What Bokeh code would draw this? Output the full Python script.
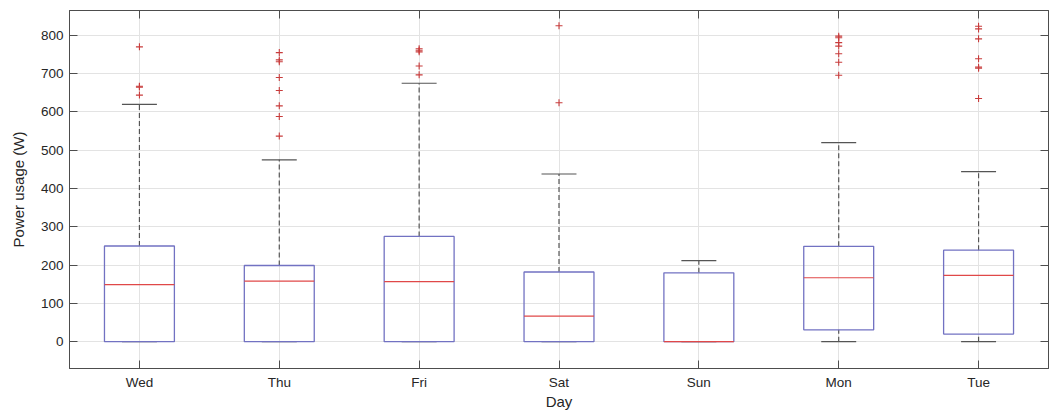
from bokeh.plotting import figure
from bokeh.models import FactorRange, Range1d, LinearAxis, CategoricalAxis, FixedTicker, ColumnDataSource
from bokeh.transform import dodge
from bokeh.embed import file_html
from bokeh.resources import INLINE

days = ["Wed", "Thu", "Fri", "Sat", "Sun", "Mon", "Tue"]
q1 = [0, 0, 0, 0, 0, 31, 20]
medians = [149, 158, 157, 67, 0, 167, 173]
q3 = [250, 199, 275, 182, 180, 249, 239]
lower = [0, 0, 0, 0, 0, 0, 0]
upper = [620, 475, 675, 438, 212, 520, 444]
outliers = {
    "Wed": [770, 667, 665, 644],
    "Thu": [755, 736, 731, 690, 656, 616, 588, 537],
    "Fri": [765, 761, 757, 720, 697],
    "Sat": [825, 624],
    "Sun": [],
    "Mon": [798, 794, 781, 772, 752, 730, 696],
    "Tue": [824, 817, 791, 739, 717, 714, 635],
}
y_ticks = [0, 100, 200, 300, 400, 500, 600, 700, 800]

FONT = "Liberation Sans"
AXIS_COLOR = "#4d4d4d"
TEXT_COLOR = "#262626"
BOX_COLOR = "#7272c2"
MED_COLOR = "#e04848"
WHISK_COLOR = "#555555"
OUT_COLOR = "#c83c3c"

src = ColumnDataSource(dict(day=days, q1=q1, med=medians, q3=q3, lo=lower, hi=upper))
od, ov = [], []
for d in days:
    for v in outliers[d]:
        od.append(d)
        ov.append(v)
osrc = ColumnDataSource(dict(day=od, val=ov))

p = figure(width=1056, height=412, x_range=FactorRange(*days, range_padding=0),
           y_range=Range1d(-70, 865), output_backend="svg", toolbar_location=None,
           min_border_left=69, min_border_right=8, min_border_top=10, min_border_bottom=44)
p.background_fill_color = "white"
p.border_fill_color = "white"
p.outline_line_color = AXIS_COLOR
p.outline_line_width = 1

# grids
p.xgrid.grid_line_color = "#e3e3e3"
p.ygrid.grid_line_color = "#e3e3e3"
p.ygrid.ticker = FixedTicker(ticks=y_ticks)

# whiskers
p.segment(x0="day", y0="q3", x1="day", y1="hi", source=src, line_color=WHISK_COLOR,
          line_dash="5 3", line_width=1.2)
p.segment(x0="day", y0="lo", x1="day", y1="q1", source=src, line_color=WHISK_COLOR,
          line_dash="5 3", line_width=1.2)
p.segment(x0=dodge("day", -0.125, range=p.x_range), x1=dodge("day", 0.125, range=p.x_range),
          y0="hi", y1="hi", source=src, line_color=WHISK_COLOR, line_width=1.2)
p.segment(x0=dodge("day", -0.125, range=p.x_range), x1=dodge("day", 0.125, range=p.x_range),
          y0="lo", y1="lo", source=src, line_color=WHISK_COLOR, line_width=1.2)
# boxes
p.vbar(x="day", width=0.5, bottom="q1", top="q3", source=src, fill_color=None,
       line_color=BOX_COLOR, line_width=1.3)
# medians
p.segment(x0=dodge("day", -0.25, range=p.x_range), x1=dodge("day", 0.25, range=p.x_range),
          y0="med", y1="med", source=src, line_color=MED_COLOR, line_width=1.2)
# outliers
p.scatter(x="day", y="val", source=osrc, marker="cross", size=7, line_color=OUT_COLOR,
          line_width=1.1)

# axes
p.yaxis.ticker = FixedTicker(ticks=y_ticks)
for ax in [p.xaxis[0], p.yaxis[0]]:
    ax.axis_line_color = AXIS_COLOR
    ax.major_tick_line_color = AXIS_COLOR
    ax.major_tick_in = 8
    ax.major_tick_out = 0
    ax.minor_tick_line_color = None
    ax.major_label_text_font = FONT
    ax.major_label_text_font_size = "13.5px"
    ax.major_label_text_color = TEXT_COLOR
    ax.axis_label_text_font = FONT
    ax.axis_label_text_font_size = "15px"
    ax.axis_label_text_font_style = "normal"
    ax.axis_label_text_color = TEXT_COLOR

p.xaxis.axis_label = "Day"
p.yaxis.axis_label = "Power usage (W)"
p.xaxis.major_label_standoff = 6
p.xaxis.axis_label_standoff = 0
p.yaxis.major_label_standoff = 6
p.yaxis.axis_label_standoff = 11

right_ax = LinearAxis(ticker=FixedTicker(ticks=y_ticks), major_label_text_font_size="0px",
                      major_label_text_color=None,
                      major_tick_in=8, major_tick_out=0, minor_tick_line_color=None,
                      axis_line_color=AXIS_COLOR, major_tick_line_color=AXIS_COLOR,
                      major_label_standoff=0)
p.add_layout(right_ax, "right")
top_ax = CategoricalAxis(major_label_text_font_size="0px", major_label_text_color=None,
                         major_tick_in=8, major_tick_out=0,
                         axis_line_color=AXIS_COLOR, major_tick_line_color=AXIS_COLOR,
                         major_label_standoff=0, group_text_font_size="0px",
                         group_text_color=None, subgroup_text_color=None)
p.add_layout(top_ax, "above")

open("out.html", "w").write(file_html(p, INLINE))
